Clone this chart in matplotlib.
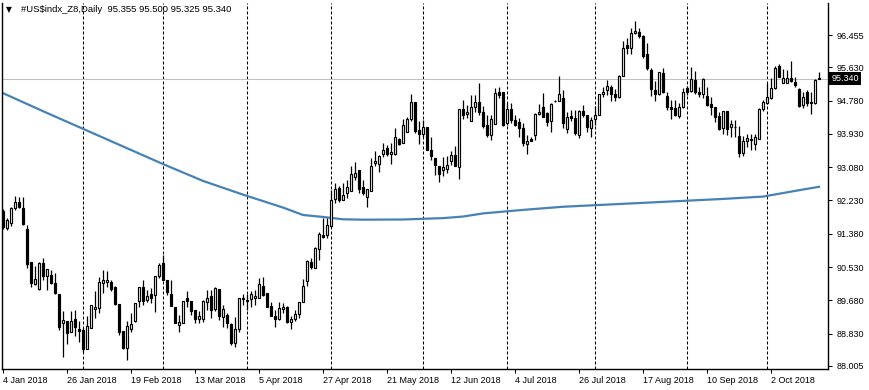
import matplotlib
matplotlib.use("Agg")
import matplotlib.pyplot as plt
import matplotlib.transforms as mtransforms

plt.rcParams["font.family"] = ["Liberation Sans", "DejaVu Sans"]

TITLE = "#US$indx_Z8,Daily  95.355 95.500 95.325 95.340"
LAST_PRICE = 95.340

# daily OHLC, one entry per bar
opens = [
    91.97, 91.52, 91.65, 92.03, 92.18, 92.03, 91.50, 90.66, 90.10, 89.96,
    90.63, 90.30, 90.32, 90.12, 89.84, 89.10, 89.16, 88.88, 89.20, 88.95,
    88.93, 88.45, 88.97, 89.45, 89.48, 90.12, 90.15, 90.14, 90.03, 89.59,
    88.90, 88.46, 88.94, 89.15, 89.67, 90.03, 89.69, 89.84, 89.82, 90.29,
    90.63, 90.20, 89.84, 89.52, 89.06, 89.11, 89.74, 89.66, 89.44, 89.21,
    89.21, 89.65, 89.79, 89.46, 89.96, 89.25, 89.31, 89.08, 88.60, 88.94,
    89.72, 89.69, 89.71, 89.75, 89.73, 90.04, 89.86, 89.54, 89.29, 89.20,
    89.45, 89.51, 89.12, 89.20, 89.33, 89.63, 90.17, 90.66, 90.50, 90.99,
    91.34, 91.35, 91.58, 92.26, 92.55, 92.25, 92.42, 92.48, 92.84, 93.00,
    92.57, 92.33, 92.48, 93.18, 93.16, 93.42, 93.56, 93.42, 93.42, 93.79,
    93.69, 93.99, 94.30, 94.74, 94.03, 93.92, 94.10, 93.52, 93.31, 93.10,
    93.00, 93.03, 93.24, 93.39, 93.09, 94.56, 94.45, 94.27, 94.61, 94.75,
    94.50, 94.16, 93.90, 94.18, 95.00, 94.99, 94.22, 94.56, 94.28, 94.23,
    94.08, 93.67, 93.80, 93.91, 94.43, 94.61, 94.46, 94.25, 94.76, 94.77,
    94.84, 94.06, 94.38, 94.33, 93.91, 94.52, 94.42, 94.08, 94.31, 94.42,
    94.96, 95.06, 95.14, 94.95, 94.88, 95.42, 96.20, 96.12, 96.50, 96.54,
    96.44, 95.97, 95.57, 95.06, 94.94, 95.48, 94.90, 94.61, 94.58, 94.38,
    94.61, 95.09, 95.03, 95.30, 95.01, 94.94, 94.90, 94.69, 94.61, 94.38,
    94.07, 94.51, 94.11, 94.10, 93.87, 93.45, 93.76, 93.81, 93.66, 93.81,
    94.57, 94.73, 94.85, 95.09, 95.66, 95.24, 95.24, 95.37, 95.25, 95.07,
    94.67, 95.01, 94.74, 94.73, 95.355,
]
highs = [
    92.01, 91.78, 92.07, 92.35, 92.33, 92.33, 91.61, 90.66, 90.56, 90.67,
    90.76, 90.47, 90.46, 90.37, 89.84, 89.42, 89.16, 89.42, 89.44, 89.16,
    88.97, 89.27, 89.56, 89.93, 90.27, 90.46, 90.44, 90.20, 90.05, 89.59,
    88.90, 89.16, 89.35, 89.61, 90.03, 90.19, 89.95, 89.99, 90.30, 90.64,
    90.84, 90.20, 90.19, 89.52, 89.31, 89.66, 89.92, 89.66, 89.44, 89.42,
    89.69, 89.95, 89.95, 90.01, 89.96, 89.56, 89.35, 89.11, 89.25, 89.73,
    89.84, 89.83, 89.93, 89.95, 90.26, 90.27, 89.86, 89.65, 89.44, 89.64,
    89.61, 89.54, 89.27, 89.44, 89.64, 90.22, 90.71, 90.76, 91.04, 91.42,
    91.78, 91.78, 92.50, 92.67, 92.59, 92.67, 92.75, 93.11, 93.22, 93.01,
    92.75, 92.52, 93.31, 93.50, 93.39, 93.71, 93.65, 93.69, 94.07, 93.83,
    94.30, 94.37, 94.95, 94.74, 94.27, 94.28, 94.10, 93.84, 93.31, 93.10,
    93.33, 93.37, 93.50, 93.62, 94.56, 94.80, 94.67, 94.92, 94.92, 95.22,
    94.63, 94.41, 94.41, 95.09, 95.14, 95.01, 94.71, 94.71, 94.42, 94.33,
    94.20, 93.91, 93.86, 94.46, 94.69, 94.97, 94.50, 94.71, 94.80, 95.41,
    95.06, 94.50, 94.54, 94.54, 94.54, 94.67, 94.42, 94.37, 94.63, 94.96,
    95.14, 95.31, 95.18, 95.08, 95.44, 96.31, 96.37, 96.64, 96.82, 96.63,
    96.46, 96.25, 95.61, 95.27, 95.52, 95.61, 95.01, 94.79, 94.79, 94.71,
    95.09, 95.15, 95.63, 95.54, 95.12, 95.35, 95.12, 94.88, 94.62, 94.50,
    94.51, 94.51, 94.28, 94.28, 94.13, 93.87, 93.93, 93.93, 93.94, 94.58,
    94.79, 95.22, 95.35, 95.66, 95.71, 95.58, 95.56, 95.80, 95.39, 95.09,
    95.01, 95.05, 95.01, 95.32, 95.500,
]
lows = [
    91.50, 91.48, 91.58, 91.99, 92.03, 91.61, 90.50, 90.01, 90.07, 89.95,
    90.20, 89.95, 90.09, 89.84, 88.93, 88.24, 88.56, 88.88, 88.76, 88.63,
    88.35, 88.43, 88.97, 89.22, 89.35, 89.88, 90.03, 89.92, 89.55, 88.80,
    88.43, 88.16, 88.86, 89.14, 89.52, 89.56, 89.65, 89.61, 89.39, 90.24,
    90.19, 89.82, 89.54, 89.11, 88.88, 89.11, 89.52, 89.31, 89.10, 89.10,
    89.14, 89.44, 89.22, 89.42, 89.18, 88.99, 88.97, 88.54, 88.50, 88.88,
    89.56, 89.44, 89.50, 89.56, 89.73, 89.79, 89.50, 89.27, 89.01, 89.18,
    89.35, 89.10, 88.94, 89.16, 89.22, 89.63, 90.05, 90.48, 90.50, 90.71,
    91.27, 91.27, 91.56, 92.16, 92.20, 92.23, 92.29, 92.46, 92.75, 92.41,
    92.37, 92.07, 92.48, 93.11, 92.97, 93.35, 93.37, 93.16, 93.39, 93.65,
    93.69, 93.99, 94.27, 93.95, 93.67, 93.86, 93.53, 93.26, 92.88, 92.71,
    92.86, 92.92, 93.14, 93.11, 92.77, 94.32, 94.33, 94.27, 94.50, 94.41,
    94.07, 93.86, 93.77, 94.18, 94.85, 94.12, 94.16, 94.20, 94.12, 93.86,
    93.61, 93.41, 93.74, 93.78, 94.42, 94.37, 94.12, 93.99, 94.74, 94.76,
    94.08, 93.95, 94.26, 93.91, 93.82, 94.37, 93.99, 93.86, 94.16, 94.40,
    94.88, 94.93, 94.76, 94.77, 94.84, 95.40, 95.97, 95.97, 96.48, 96.37,
    95.88, 95.57, 94.91, 94.77, 94.93, 94.97, 94.54, 94.30, 94.38, 94.33,
    94.58, 94.92, 95.01, 94.96, 94.88, 94.84, 94.64, 94.41, 94.24, 94.04,
    93.94, 93.90, 93.84, 93.86, 93.35, 93.36, 93.60, 93.52, 93.52, 93.79,
    94.52, 94.69, 94.83, 95.07, 95.39, 95.22, 95.22, 95.26, 95.13, 94.61,
    94.58, 94.64, 94.44, 94.69, 95.325,
]
closes = [
    91.55, 91.73, 92.03, 92.20, 92.07, 91.62, 90.61, 90.12, 90.22, 90.63,
    90.29, 90.47, 90.12, 89.86, 88.99, 89.18, 88.84, 89.16, 88.99, 88.91,
    88.45, 89.03, 89.56, 89.52, 90.15, 90.19, 90.20, 89.97, 89.58, 88.88,
    88.46, 89.03, 89.07, 89.61, 90.01, 89.67, 89.79, 89.73, 90.30, 90.58,
    90.20, 89.90, 89.54, 89.11, 89.13, 89.66, 89.66, 89.42, 89.21, 89.27,
    89.66, 89.73, 89.44, 89.99, 89.27, 89.45, 89.10, 88.60, 88.94, 89.73,
    89.75, 89.66, 89.84, 89.78, 90.09, 89.81, 89.50, 89.29, 89.20, 89.49,
    89.51, 89.12, 89.20, 89.33, 89.64, 90.04, 90.69, 90.52, 91.01, 91.38,
    91.30, 91.60, 92.24, 92.53, 92.23, 92.37, 92.57, 92.90, 92.92, 92.53,
    92.41, 92.52, 93.11, 93.24, 93.37, 93.52, 93.42, 93.46, 93.86, 93.67,
    94.16, 94.30, 94.75, 94.01, 93.92, 94.11, 93.53, 93.37, 93.14, 92.91,
    93.08, 93.14, 93.39, 93.11, 94.56, 94.40, 94.50, 94.61, 94.75, 94.48,
    94.14, 93.90, 94.30, 94.97, 94.93, 94.16, 94.56, 94.29, 94.16, 94.08,
    93.69, 93.75, 93.75, 94.43, 94.50, 94.37, 94.23, 94.69, 94.78, 94.94,
    94.20, 94.37, 94.33, 93.95, 94.52, 94.40, 94.10, 94.29, 94.40, 94.96,
    95.01, 95.16, 94.94, 94.88, 95.41, 96.12, 96.12, 96.50, 96.56, 96.42,
    95.93, 95.61, 95.08, 94.94, 95.51, 95.01, 94.62, 94.57, 94.41, 94.61,
    94.99, 95.01, 95.32, 95.01, 94.94, 95.32, 94.67, 94.61, 94.37, 94.06,
    94.51, 94.06, 94.18, 94.11, 93.43, 93.76, 93.82, 93.77, 93.84, 94.56,
    94.75, 94.88, 95.09, 95.60, 95.39, 95.35, 95.37, 95.29, 95.17, 94.64,
    94.88, 94.71, 94.71, 95.30, 95.340,
]

# moving average, read at selected bars
ma_bars = [0, 10, 20, 30, 40, 50, 60, 70, 75, 80, 85, 90, 100, 110, 115,
           120, 130, 140, 150, 160, 170, 180, 190, 195, 200, 204]
ma_values = [94.97, 94.51, 94.06, 93.61, 93.16, 92.73, 92.38, 92.05, 91.86,
             91.81, 91.75, 91.74, 91.745, 91.78, 91.82, 91.90, 91.99, 92.07,
             92.12, 92.17, 92.22, 92.27, 92.33, 92.42, 92.51, 92.58]

# period separators (first bar of each month)
month_starts = [20, 40, 61, 82, 105, 126, 148, 171, 191]

date_ticks = [0, 16, 32, 48, 64, 80, 96, 112, 128, 144, 160, 176, 192]
date_labels = ["4 Jan 2018", "26 Jan 2018", "19 Feb 2018", "13 Mar 2018",
               "5 Apr 2018", "27 Apr 2018", "21 May 2018", "12 Jun 2018",
               "4 Jul 2018", "26 Jul 2018", "17 Aug 2018", "10 Sep 2018",
               "2 Oct 2018"]
price_ticks = [96.455, 95.630, 94.780, 93.930, 93.080, 92.230, 91.380,
               90.530, 89.680, 88.830, 88.005]

W, H = 870, 390
fig = plt.figure(figsize=(W / 100, H / 100), dpi=100)
ax = fig.add_axes([2 / W, 21 / H, 826 / W, 366 / H])

n = len(closes)
xs = list(range(n))

# month separators and current price line
for m in month_starts:
    ax.axvline(m, color="black", lw=0.75, ls=(0, (2.9, 1.9)), zorder=1)
ax.axhline(LAST_PRICE, color="#c0c0c0", lw=0.75, zorder=1)

ax.plot(ma_bars, ma_values, color="#4682b4", lw=1.6, zorder=2)

# candles
ax.vlines(xs, lows, highs, color="black", lw=0.9, zorder=3)
bottoms = [min(o, c) for o, c in zip(opens, closes)]
heights = [max(abs(c - o), 0.005) for o, c in zip(opens, closes)]
colors = ["white" if c >= o else "black" for o, c in zip(opens, closes)]
ax.bar(xs, heights, bottom=bottoms, width=0.55, color=colors,
       edgecolor="black", linewidth=0.85, zorder=4)

ax.set_xlim(-0.25, 206.25)
ax.set_ylim(87.928, 97.272)

ax.spines["top"].set_visible(False)
for s in ["left", "right", "bottom"]:
    ax.spines[s].set_linewidth(1.0)
    ax.spines[s].set_color("black")

ax.yaxis.tick_right()
ax.set_yticks(price_ticks)
ax.set_yticklabels([f"{p:.3f}" for p in price_ticks])
ax.tick_params(axis="y", direction="out", length=3, width=0.75, pad=3,
               labelsize=6.5, colors="black")

ax.set_xticks(date_ticks)
ax.set_xticklabels(date_labels)
ax.tick_params(axis="x", direction="out", length=3, width=0.75, pad=2,
               labelsize=6.5, colors="black")
for lab in ax.get_xticklabels():
    lab.set_horizontalalignment("left")

# last price tag on the axis
trans = mtransforms.blended_transform_factory(ax.transAxes, ax.transData)
ax.text(1.004, LAST_PRICE, f"{LAST_PRICE:.3f}", transform=trans, color="white",
        fontsize=6.5, va="center", ha="left", zorder=6,
        bbox=dict(facecolor="black", edgecolor="none", pad=1.6))

fig.text(6 / W, 1 - 10 / H, "\u25bc", fontsize=5.5, va="center", ha="left",
         family="DejaVu Sans")
fig.text(21 / W, 1 - 10 / H, TITLE, fontsize=6.8, va="center", ha="left",
         parse_math=False)

fig.savefig("out.png", dpi=100, facecolor="white")
